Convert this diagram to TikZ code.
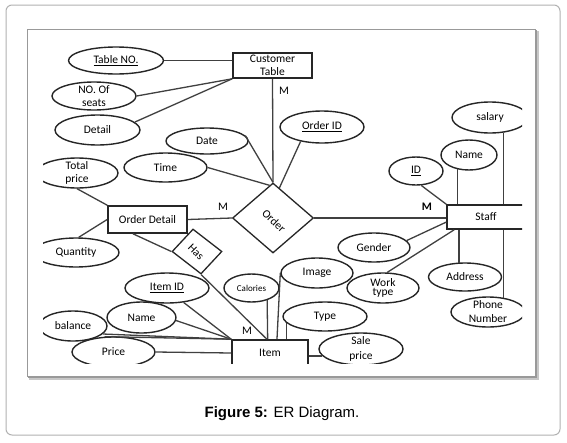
\documentclass[tikz,border=0pt]{standalone}
\usepackage{fontspec}
\setmainfont{Carlito}
\newfontfamily\capfont{Liberation Sans}
\usetikzlibrary{shapes.geometric,calc}
\begin{document}
\begin{tikzpicture}[x=1pt,y=-1pt,
  ln/.style={line width=1.3pt, draw=black!75},
  attr/.style={ellipse, draw=black!85, line width=1.4pt, inner sep=0pt, font=\fontsize{11.5}{13}\selectfont, align=center},
  attr2/.style={attr, inner ysep=-6pt},
  ent/.style={rectangle, draw=black!85, line width=1.6pt, inner sep=0pt, font=\fontsize{11.5}{13}\selectfont, align=center},
  rel/.style={diamond, draw=black!85, line width=1.3pt, inner sep=0pt},
  reltext/.style={inner sep=0pt, font=\fontsize{11.5}{13}\selectfont},
  card/.style={inner sep=0pt, font=\fontsize{11.5}{13}\selectfont},
]
\useasboundingbox (0,0) rectangle (567,442);
\fill[white] (0,0) rectangle (567,442);
% outer frame
\draw[black!30, line width=1pt, rounded corners=6pt] (6,5) rectangle (560,435);
% inner framed picture with shadow
\fill[black!22] (29,31) rectangle (539,380);
\fill[black!40] (28,30) rectangle (537,378);
\draw[black!40, fill=white, line width=0.6pt] (27,29) rectangle (535,376);

\begin{scope}
\clip (43,35) rectangle (522,363);
% entities
\node[ent, minimum width=79pt, minimum height=25pt] (cust) at (272.5,65.5) {Customer\\Table};
\node[ent, minimum width=79pt, minimum height=27pt] (od) at (147.5,219.5) {Order Detail};
\node[ent, minimum width=76pt, minimum height=26pt] (item) at (270,353) {Item};
\node[ent, minimum width=78pt, minimum height=24pt] (staff) at (486,217) {Staff};
% relationships
\node[rel, minimum width=81pt, minimum height=70pt] (order) at (273,218) {};
\node[reltext, rotate=-43] (ordert) at (274,221) {Order};
\node[rel, minimum width=50pt, minimum height=45pt, xslant=-0.18] (has) at (197,251.5) {};
\node[reltext, rotate=-45] (hast) at (196,252) {Has};
% attributes
\node[attr, minimum width=95pt, minimum height=27pt] (tableno) at (116,60.5) {\underline{Table NO.}};
\node[attr2, minimum width=84pt, minimum height=28pt] (seats) at (94,96) {NO. Of\\seats};
\node[attr, minimum width=85pt, minimum height=30pt] (detail) at (97.5,130) {Detail};
\node[attr, minimum width=82pt, minimum height=26pt] (date) at (207,141) {Date};
\node[attr, minimum width=83pt, minimum height=29pt] (time) at (165.5,167.5) {Time};
\node[attr, minimum width=84pt, minimum height=32pt] (oid) at (322,127) {\underline{Order ID}};
\node[attr2, minimum width=82pt, minimum height=30pt] (total) at (77,173) {Total\\price};
\node[attr, minimum width=86pt, minimum height=29pt] (qty) at (76,252.5) {Quantity};
\node[attr, minimum width=84pt, minimum height=30pt] (itemid) at (167,288) {\underline{Item ID}};
\node[attr, minimum width=55pt, minimum height=28pt, font=\fontsize{9}{10}\selectfont] (cal) at (251.5,288) {Calories};
\node[attr, minimum width=69pt, minimum height=31pt] (iname) at (141.5,317.5) {Name};
\node[attr, minimum width=68pt, minimum height=30pt] (bal) at (73,326) {balance};
\node[attr, minimum width=83pt, minimum height=30pt] (price) at (113.5,352) {Price};
\node[attr, minimum width=72pt, minimum height=30pt] (image) at (317,273) {Image};
\node[attr, minimum width=84pt, minimum height=29pt] (type) at (325,316.5) {Type};
\node[attr2, minimum width=84pt, minimum height=32pt, font=\fontsize{11.5}{15}\selectfont] (sale) at (361,349) {Sale\\price};
\node[attr, minimum width=72pt, minimum height=29pt] (gender) at (374,247.5) {Gender};
\node[attr2, minimum width=72pt, minimum height=30pt, font=\fontsize{11.5}{9.5}\selectfont] (work) at (383,288) {Work\\type};
\node[attr, minimum width=73pt, minimum height=28pt] (addr) at (465,277) {Address};
\node[attr2, minimum width=74pt, minimum height=30pt, font=\fontsize{11.5}{14}\selectfont] (phone) at (488,312) {Phone\\Number};
\node[attr, minimum width=54pt, minimum height=28pt] (sid) at (416,171) {\underline{ID}};
\node[attr, minimum width=56pt, minimum height=30pt] (sname) at (469,155) {Name};
\node[attr, minimum width=76pt, minimum height=31pt] (salary) at (490,117.5) {salary};
% cardinalities
\node[card] (m1) at (284,91) {M};
\node[card] (m2) at (223,207) {M};
\node[card, font=\fontsize{11.5}{13}\selectfont\bfseries] (m3) at (427,207) {M};
\node[card] (m4) at (247,331) {M};
% connectors
\draw[ln] (tableno.east) -- (tableno.east -| cust.west);
\draw[ln] (seats.east) -- (cust.south west);
\draw[ln] (detail.12) -- (cust.south west);
\draw[ln] (cust.south) -- (order.north);
\draw[ln] (date.8) -- (order.north);
\draw[ln] (time.east) -- (order.96);
\draw[ln] (oid.214) -- (order.78);
\draw[ln] (od.east) -- (order.west);
\draw[ln] (total.south) -- (od.north west);
\draw[ln] (qty.80) -- (od.west);
\draw[ln] ($(od.south west)!0.32!(od.south east)$) -- (has.west);
\draw[ln] (has.south) -- ($(item.north west)!0.46!(item.north east)$);
\draw[ln] (itemid.319) -- (item.north west);
\draw[ln] (iname.355) -- (item.north west);
\draw[ln] (bal.345) -- (item.north west);
\draw[ln] (price.120) -- (item.north west);
\draw[ln] (price.east) -- (item.west);
\draw[ln] (cal.322) -- ($(item.north west)!0.47!(item.north east)$);
\draw[ln] (image.west) -- ($(item.north west)!0.59!(item.north east)$);
\draw[ln] (type.190) -- (type.190 |- item.north);
\draw[ln] (sale.190) -- (sale.190 -| item.east);
\draw[ln] (order.east) -- (order.east -| staff.west);
\draw[ln] (sid.290) -- (staff.north west);
\draw[ln] (sname.232) -- (sname.232 |- staff.north);
\draw[ln] (salary.312) -- (salary.312 |- staff.north);
\draw[ln] (gender.12) -- ($(staff.north west)!0.7!(staff.south west)$);
\draw[ln] (work.75) -- ($(staff.south west)!0.1!(staff.south east)$);
\draw[ln] (addr.113) -- (addr.113 |- staff.south);
\draw[ln] (phone.42) -- (phone.42 |- staff.south);
\end{scope}

\node[anchor=base, inner sep=0pt, font=\capfont\fontsize{15}{18}\selectfont] (cap) at (282,417) {\textbf{Figure 5:} ER Diagram.};
\end{tikzpicture}
\end{document}
